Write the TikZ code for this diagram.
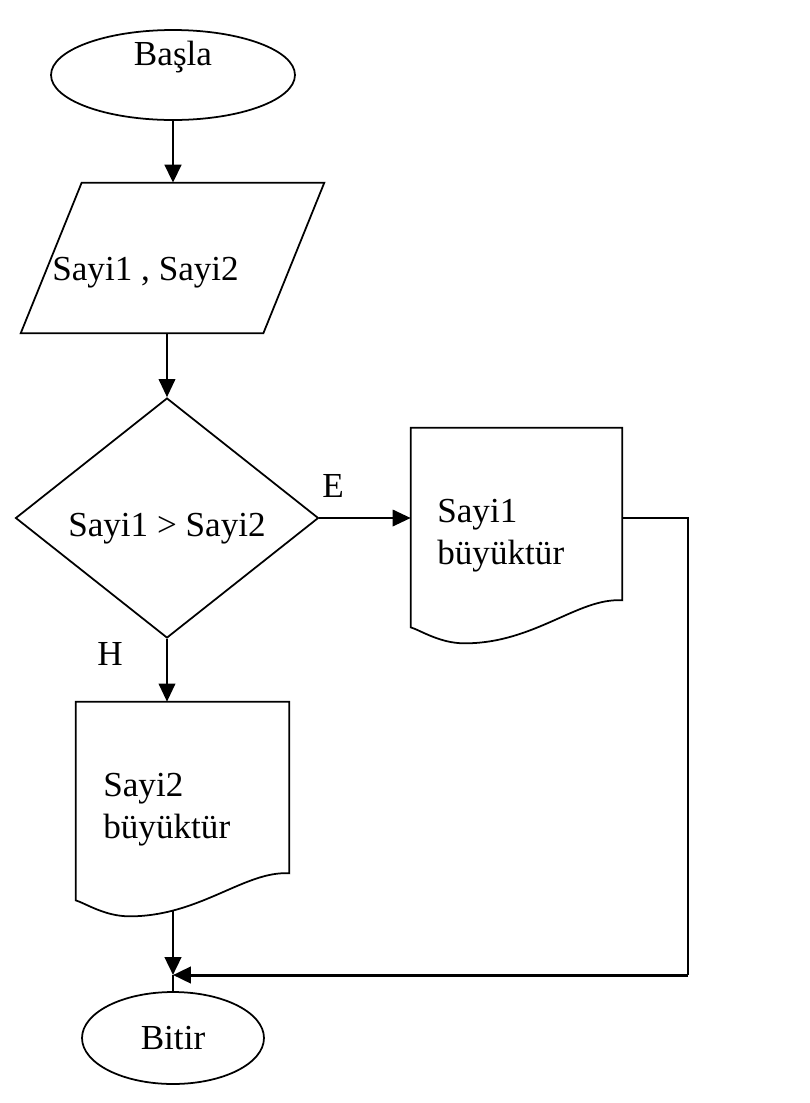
\documentclass[tikz,border=0pt]{standalone}
\usepackage{fontspec}
\setmainfont{Liberation Serif}
\usetikzlibrary{shapes.geometric, arrows.meta, calc}

% outline of a document box around an empty node
\newcommand{\docoutline}[1]{%
  \draw[outline] (#1.north west) -- (#1.north east) -- ($(#1.south east)+(0,-27)$)
    .. controls +(-44,-3) and +(70,0) .. ($(#1.south west)+(54,16)$)
    .. controls +(-25,0) and +(10,3) .. (#1.south west) -- cycle;}

\begin{document}
\begin{tikzpicture}[
  x=0.02cm, y=-0.02cm,
  every node/.style={font=\fontsize{20}{24}\selectfont},
  outline/.style={line width=1pt},
  terminal/.style={draw, outline, ellipse, inner sep=0pt},
  decision/.style={draw, outline, diamond, aspect=1.26, inner sep=0pt, text height=0.91cm},
  box/.style={rectangle, inner sep=0pt},
  txt/.style={inner sep=0pt, align=left},
  arrow/.style={-{Triangle[length=0.36cm,width=0.33cm]}, line width=1.1pt},
  heavy/.style={arrow, line width=1.7pt}
]
  \useasboundingbox (0,0) rectangle (810,1103);

  % Shapes
  \node[terminal, minimum width=4.88cm, minimum height=1.8cm, text height=0pt, text depth=0.4cm] (start) at (173,75) {Başla};
  \node[box, minimum width=6.06cm, minimum height=3cm] (input) at (172.5,258) {};
  \draw[outline] ($(input.north west)+(61,0)$) -- (input.north east) -- ($(input.south east)+(-61,0)$) -- (input.south west) -- cycle;
  \node[txt, anchor=base west] (inputtext) at (52,280) {Sayi1 , Sayi2};
  \node[decision, minimum width=6.06cm, minimum height=4.8cm] (dec) at (167,518) {Sayi1 > Sayi2};
  \node[box, minimum width=4.22cm, minimum height=3.98cm] (d1) at (516.5,527.5) {};
  \docoutline{d1}
  \node[txt, anchor=west] (d1text) at (437,536) {Sayi1\\büyüktür};
  \node[box, minimum width=4.26cm, minimum height=3.96cm] (d2) at (182.5,801) {};
  \docoutline{d2}
  \node[txt, anchor=west] (d2text) at (103,810) {Sayi2\\büyüktür};
  \node[terminal, minimum width=3.64cm, minimum height=1.84cm] (end) at (173,1038) {Bitir};

  % Labels
  \node[anchor=base] (yes) at (333,497) {E};
  \node[anchor=base] (no) at (110,665) {H};

  % Arrows
  \coordinate (merge) at (173,975);
  \coordinate (turn) at (688,975);
  \draw[heavy] (start.south) -- (start.south |- input.north);
  \draw[arrow] (dec.north |- input.south) -- (dec.north);
  \draw[arrow] (dec.east) -- (dec.east -| d1.west);
  \draw[arrow] (dec.south) -- (dec.south |- d2.north);
  \draw[line width=1.1pt] (dec.east -| d1.east) -| (turn);
  \draw[heavy] (turn) -- (merge);
  \draw[heavy] ($(d2.south -| merge)+(0,11)$) -- (merge);
  \draw[line width=0.8pt] (merge) -- (end.north);
\end{tikzpicture}
\end{document}
